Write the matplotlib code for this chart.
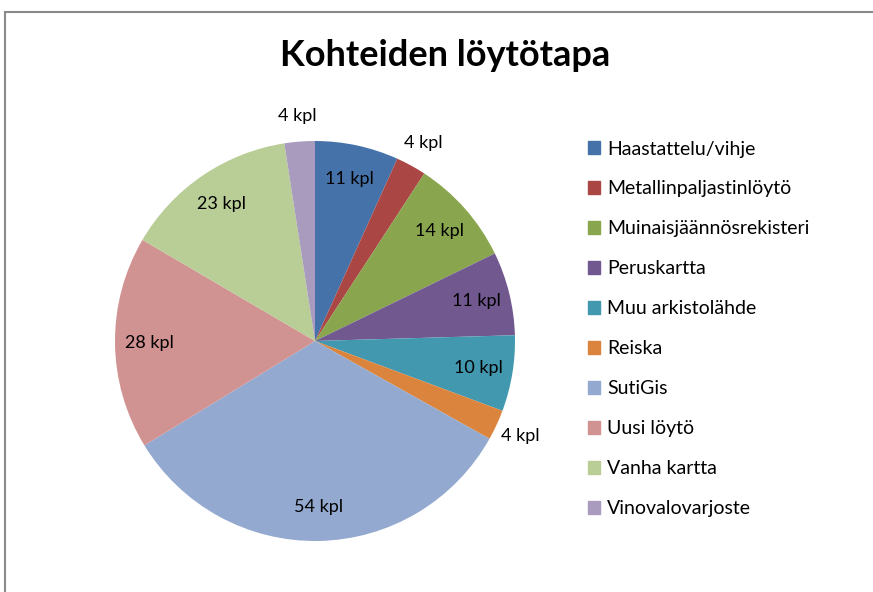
import numpy as np
import matplotlib.pyplot as plt
import matplotlib.patches as mpatches

# slice data, clockwise from 12 o'clock
categories = ["Haastattelu/vihje", "Metallinpaljastinlöytö", "Muinaisjäännösrekisteri",
              "Peruskartta", "Muu arkistolähde", "Reiska", "SutiGis",
              "Uusi löytö", "Vanha kartta", "Vinovalovarjoste"]
counts = [11, 4, 14, 11, 10, 4, 54, 28, 23, 4]
colors = ["#4672AA", "#AA4643", "#89A54E", "#71588F", "#4198AF",
          "#DB843D", "#93A9CF", "#D19392", "#B9CD96", "#A99BBD"]

plt.rcParams['font.family'] = ['Lato', 'DejaVu Sans']

W, H = 873, 592
fig = plt.figure(figsize=(W / 100, H / 100), dpi=100)

# grey chart frame (cut off at right and bottom like the screenshot)
fig.patches.append(mpatches.Rectangle((5 / W, -0.1), 1.2, (H - 12) / H + 0.1,
                                      transform=fig.transFigure, fill=False,
                                      edgecolor="#8a8a8a", linewidth=1.5))

cx, cy, r = 315, 341, 202
ax = fig.add_axes([(cx - r) / W, (H - cy - r) / H, 2 * r / W, 2 * r / H])
wedges, _ = ax.pie(counts, colors=colors, startangle=90, counterclock=False,
                   radius=1.0, wedgeprops=dict(linewidth=0))
ax.set_xlim(-1.01, 1.01)
ax.set_ylim(-1.01, 1.01)
ax.set_aspect("equal")
ax.axis("off")

# data labels: small slices sit outside the pie
for w, n in zip(wedges, counts):
    mid = np.deg2rad((w.theta1 + w.theta2) / 2)
    dist = 1.13 if n <= 4 else 0.83
    ax.text(dist * np.cos(mid), dist * np.sin(mid), f"{n} kpl",
            ha="center", va="center", fontsize=13, color="black")

fig.text(445 / W, 1 - 56 / H, "Kohteiden löytötapa", ha="center", va="center",
         fontsize=26, fontweight="bold")

handles = [mpatches.Patch(color=c) for c in colors]
fig.legend(handles, categories, loc="upper left",
           bbox_to_anchor=(570 / W, 1 - 123 / H), frameon=False,
           fontsize=14, handlelength=0.65, handleheight=0.65,
           handletextpad=0.35, labelspacing=1.18)

fig.savefig("out.png", dpi=100)
